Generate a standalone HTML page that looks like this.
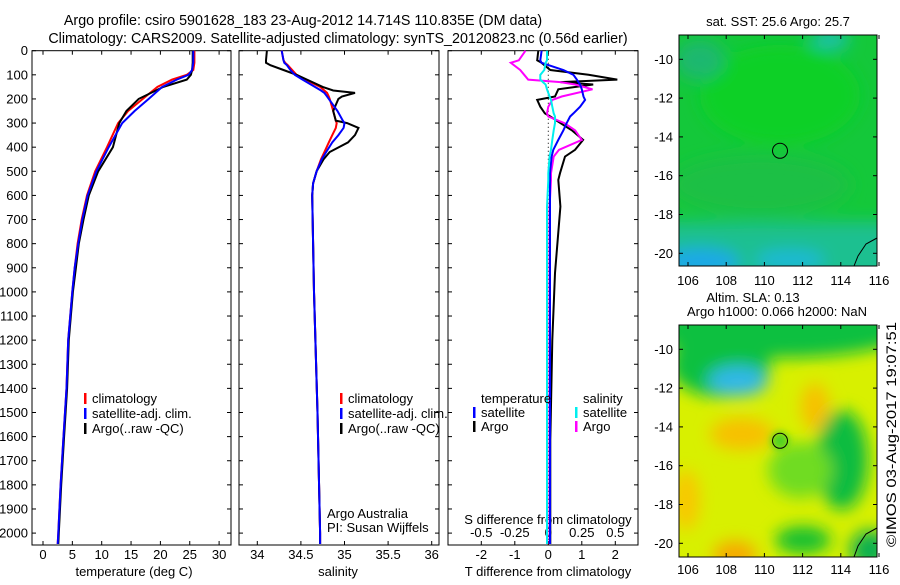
<!DOCTYPE html>
<html><head><meta charset="utf-8"><style>
body{margin:0;background:#fff}
svg text{font-family:"Liberation Sans",sans-serif;font-size:13px;fill:#000}
svg text.ttl{font-size:14.3px}
</style></head><body>
<svg id="c" width="900" height="580" viewBox="0 0 900 580" xmlns="http://www.w3.org/2000/svg">
<defs>
<filter id="bl" x="-50%" y="-50%" width="200%" height="200%"><feGaussianBlur stdDeviation="8"/></filter>
<filter id="bl2" x="-50%" y="-50%" width="200%" height="200%"><feGaussianBlur stdDeviation="4"/></filter>
<clipPath id="cm1"><rect x="679" y="35" width="198" height="231"/></clipPath>
<clipPath id="cm2"><rect x="679" y="325" width="198" height="232"/></clipPath>
</defs>
<text class="ttl" x="303" y="25" text-anchor="middle">Argo profile: csiro 5901628_183 23-Aug-2012 14.714S 110.835E (DM data)</text>
<text class="ttl" x="338" y="43" text-anchor="middle">Climatology: CARS2009. Satellite-adjusted climatology: synTS_20120823.nc (0.56d earlier)</text>
<g id="plots"></g>

<g clip-path="url(#cm1)">
<rect x="679" y="35" width="198" height="231" fill="#14c83a"/>
<g filter="url(#bl)">
<ellipse cx="780" cy="95" rx="80" ry="50" fill="#10d028"/>
<ellipse cx="760" cy="185" rx="90" ry="30" fill="#1cc044"/>
<ellipse cx="700" cy="60" rx="25" ry="20" fill="#1cb870"/>
<rect x="660" y="222" width="240" height="60" fill="#1cc090"/>
<ellipse cx="700" cy="262" rx="40" ry="14" fill="#1ca8e8"/>
<ellipse cx="790" cy="260" rx="35" ry="10" fill="#1cb8d8"/>
<ellipse cx="830" cy="40" rx="20" ry="8" fill="#1cc0c0"/>
</g>
<path d="M877 238 L866 244 L858 256 L854 266" fill="none" stroke="#000" stroke-width="1"/>
</g>
<rect x="679" y="35" width="198" height="231" fill="none" stroke="#000"/>
<circle cx="780" cy="150.8" r="7.5" fill="none" stroke="#000"/>

<g clip-path="url(#cm2)">
<rect x="679" y="325" width="198" height="232" fill="#d8f000"/>
<g filter="url(#bl)">
<ellipse cx="780" cy="330" rx="130" ry="28" fill="#10c040"/>
<ellipse cx="720" cy="365" rx="50" ry="32" fill="#10c040"/>
<ellipse cx="738" cy="381" rx="30" ry="15" fill="#30b8e8"/>
<ellipse cx="842" cy="460" rx="26" ry="50" fill="#10bc40"/>
<ellipse cx="800" cy="470" rx="32" ry="28" fill="#70dc20"/>
<ellipse cx="803" cy="540" rx="28" ry="14" fill="#18c030"/>
<ellipse cx="870" cy="550" rx="20" ry="20" fill="#10b050"/>
<ellipse cx="742" cy="434" rx="32" ry="16" fill="#f8c000"/>
<ellipse cx="815" cy="407" rx="14" ry="24" fill="#f8c000"/>
<ellipse cx="735" cy="555" rx="22" ry="14" fill="#f8a800"/>
<ellipse cx="686" cy="500" rx="14" ry="30" fill="#f8c800"/>
</g>
<circle cx="780" cy="440.8" r="9" fill="#50d020" filter="url(#bl2)"/>
<path d="M877 528 L866 534 L858 546 L854 557" fill="none" stroke="#000" stroke-width="1"/>
</g>
<rect x="679" y="325" width="198" height="232" fill="none" stroke="#000"/>
<circle cx="780" cy="440.8" r="7.5" fill="none" stroke="#000"/>
<text x="778" y="26" text-anchor="middle">sat. SST: 25.6 Argo: 25.7</text>
<text x="753" y="302" text-anchor="middle">Altim. SLA: 0.13</text>
<text x="777" y="316" text-anchor="middle">Argo h1000: 0.066 h2000: NaN</text>
<text transform="translate(896,547) rotate(-90)" text-anchor="start" textLength="225" lengthAdjust="spacingAndGlyphs" style="font-size:14px">©IMOS 03-Aug-2017 19:07:51</text>
<g id="maptk"></g>
</svg>
<script>
// ---- data ----
const depths=[0,50,80,100,120,150,200,250,300,400,500,600,700,800,900,1000,1200,1400,1600,1800,2000,2045];
const tempClim=[25.8,25.8,25.6,24.5,22,19.5,17,14.5,12.8,10.9,8.9,7.5,6.6,5.9,5.4,5.0,4.3,4.0,3.5,3.0,2.6,2.5];
const tempSat=[25.6,25.6,25.4,24.8,22.8,20.3,18.0,15.6,13.5,11.2,9.1,7.6,6.7,6.0,5.4,5.0,4.3,4.0,3.5,3.0,2.6,2.5];
const tempArgo=[25.5,25.5,25.4,25.2,24.5,20.5,16.3,14.2,13.0,11.9,9.4,7.8,6.9,6.1,5.6,5.1,4.4,4.1,3.6,3.1,2.7,2.6];
const salDepths=[0,40,50,60,80,100,120,150,165,175,190,200,250,290,300,320,350,380,420,450,500,550,600,1000,1500,2000,2045];
const salClim=[34.28,34.30,34.32,34.35,34.40,34.45,34.55,34.72,34.77,34.80,34.82,34.83,34.87,34.90,34.91,34.90,34.86,34.82,34.77,34.73,34.68,34.64,34.63,34.65,34.69,34.72,34.72];
const salSat=[34.28,34.30,34.31,34.34,34.38,34.43,34.52,34.66,34.73,34.77,34.80,34.82,34.92,34.98,35.0,34.99,34.93,34.86,34.79,34.74,34.68,34.64,34.63,34.65,34.69,34.72,34.72];
const salArgo=[34.11,34.10,34.10,34.15,34.30,34.45,34.57,34.75,34.87,35.12,34.97,34.93,34.87,34.90,35.03,35.16,35.12,35.04,34.83,34.76,34.68,34.64,34.63,34.65,34.69,34.72,34.72];
const dDepths=[0,40,50,80,100,120,130,140,160,190,204,232,260,273,300,330,370,411,439,508,536,646,922,1200,1615,2045];
const dTsat=[-0.2,-0.24,-0.2,0.45,0.75,0.85,0.9,0.95,1.0,1.05,1.1,0.95,0.75,0.65,0.55,0.45,0.3,0.15,0.1,0.05,0.05,0.05,0.05,0.05,0.05,0.05];
const dTargo=[-0.3,-0.33,-0.2,0.06,1.2,2.06,0.36,1.34,0.3,0.2,-0.33,-0.24,-0.1,0.06,0.36,0.7,1.04,0.8,0.5,0.35,0.3,0.36,0.2,0.12,0.06,0.06];
const dSsat=[-0.01,-0.01,-0.02,-0.03,-0.06,-0.06,-0.04,-0.02,-0.01,0.01,0.02,0.03,0.04,0.05,0.05,0.04,0.03,0.02,0.01,0.0,0.0,-0.01,-0.01,-0.01,-0.01,-0.01];
const dSargo=[-0.17,-0.22,-0.28,-0.21,-0.18,-0.15,0.09,0.2,0.33,0.1,0.03,0.0,-0.01,0.0,0.12,0.2,0.25,0.08,0.04,0.02,0.02,0.01,0.01,0.01,0.01,0.01];
const depthTicks=[0,100,200,300,400,500,600,700,800,900,1000,1100,1200,1300,1400,1500,1600,1700,1800,1900,2000];
const tTicks=[0,5,10,15,20,25,30];
const sTicks=[34,34.5,35,35.5,36];
const dTTicks=[-2,-1,0,1,2];
const dSTicks=[-0.5,-0.25,0,0.25,0.5];
const dSTickLabels=["-0.5","-0.25","0","0.25","0.5"];
const latTicks=[-10,-12,-14,-16,-18,-20];
const lonTicks=[106,108,110,112,114,116];

const NS='http://www.w3.org/2000/svg';
const G=document.getElementById('plots');
function mk(t,a,p){const e=document.createElementNS(NS,t);for(const k in a)e.setAttribute(k,a[k]);(p||G).appendChild(e);return e;}
const top0=50.7, bot=545;
const yD=d=>top0+d*0.2412;
const xT=v=>43+v*5.87;
const xS=v=>257.3+(v-34)*87.2;
const xDT=v=>548.3+v*33.5;
const xDS=v=>548.3+v*134;
const panels=[[32,231],[239,439],[448,638]];
panels.forEach((p,i)=>{
  const r=mk('rect',{x:p[0],y:top0,width:p[1]-p[0],height:bot-top0,fill:'none',stroke:'#000'});
  
  
});
depthTicks.forEach(d=>{
  const t=mk('text',{x:28,y:yD(d)+4.5,'text-anchor':'end'});t.textContent=d;
  
  
  panels.forEach(p=>{mk('line',{x1:p[0],x2:p[0]+4,y1:yD(d),y2:yD(d),stroke:'#000'});mk('line',{x1:p[1]-4,x2:p[1],y1:yD(d),y2:yD(d),stroke:'#000'});});
});
function xticks(arr,fx,y,labels,name,tickTop){
  arr.forEach((v,i)=>{
    const x=fx(v);
    if(tickTop){mk('line',{x1:x,x2:x,y1:top0,y2:top0+4,stroke:'#000'});mk('line',{x1:x,x2:x,y1:bot-4,y2:bot,stroke:'#000'});}
    const t=mk('text',{x:x,y:y,'text-anchor':'middle'});t.textContent=labels?labels[i]:v;
    
    
  });
}
xticks(tTicks,xT,559,null,'temperature-tick-label',true);
xticks(sTicks,xS,559,null,'salinity-tick-label',true);
xticks(dTTicks,xDT,559,null,'tdiff-tick-label',true);
xticks(dSTicks,xDS,537,dSTickLabels,'sdiff-tick-label',false);
function lbl(x,y,s,name,anchor){const t=mk('text',{x:x,y:y,'text-anchor':anchor||'start'});t.textContent=s;return t;}
lbl(134,576,'temperature (deg C)','x-axis-title-temperature','middle');
lbl(338,576,'salinity','x-axis-title-salinity','middle');
lbl(548,576,'T difference from climatology','x-axis-title-tdiff','middle');
lbl(548,524,'S difference from climatology','sdiff-axis-title','middle');
lbl(327,518,'Argo Australia','credit-line-1');
lbl(327,532,'PI: Susan Wijffels','credit-line-2');
mk('line',{x1:548.3,x2:548.3,y1:top0,y2:bot,stroke:'#000','stroke-dasharray':'1,3'});
function line(xs,ds,fx,color,name){
  const pts=xs.map((v,i)=>fx(v).toFixed(1)+','+yD(ds[i]).toFixed(1)).join(' ');
  const e=mk('polyline',{points:pts,fill:'none',stroke:color,'stroke-width':2});
  
  
}
line(tempClim,depths,xT,'#f00','temp-climatology-line');
line(tempArgo,depths,xT,'#000','temp-argo-line');
line(tempSat,depths,xT,'#00f','temp-satellite-line');
line(salClim,salDepths,xS,'#f00','sal-climatology-line');
line(salArgo,salDepths,xS,'#000','sal-argo-line');
line(salSat,salDepths,xS,'#00f','sal-satellite-line');
line(dTargo,dDepths,xDT,'#000','tdiff-argo-line');
line(dSargo,dDepths,xDS,'#f0f','sdiff-argo-line');
line(dTsat,dDepths,xDT,'#00f','tdiff-satellite-line');
line(dSsat,dDepths,xDS,'#0ee','sdiff-satellite-line');
function leg(x,y,c,s,name){mk('rect',{x:x,y:y-10,width:2.5,height:11,fill:c});lbl(x+8,y,s,name);}
[[84,'t'],[340,'s']].forEach(([x,k])=>{
  leg(x,403,'#f00','climatology','legend-climatology-'+k);
  leg(x,418,'#00f','satellite-adj. clim.','legend-satellite-'+k);
  leg(x,433,'#000','Argo(..raw -QC)','legend-argo-'+k);
});
lbl(481,403,'temperature','legend-header-temperature');
lbl(583,403,'salinity','legend-header-salinity');
leg(473,417,'#00f','satellite','legend-tdiff-satellite');
leg(473,431,'#000','Argo','legend-tdiff-argo');
leg(575,417,'#0ee','satellite','legend-sdiff-satellite');
leg(575,431,'#f0f','Argo','legend-sdiff-argo');
const MT=document.getElementById('maptk');
const xLon=v=>688+(v-106)*19.1;
[[35,266,59.3,285],[325,557,349.3,574]].forEach(([t,b,l10,ly])=>{
  const yLat=v=>l10+(-10-v)*19.4;
  latTicks.forEach(v=>{
    const y=yLat(v);
    mk('line',{x1:679,x2:683,y1:y,y2:y,stroke:'#000'},MT);mk('line',{x1:873,x2:877,y1:y,y2:y,stroke:'#000'},MT);
    const tx=mk('text',{x:673,y:y+4.5,'text-anchor':'end'},MT);tx.textContent=v;
    
    
  });
  lonTicks.forEach(v=>{
    const x=xLon(v);
    mk('line',{x1:x,x2:x,y1:t,y2:t+4,stroke:'#000'},MT);mk('line',{x1:x,x2:x,y1:b-4,y2:b,stroke:'#000'},MT);
    const tx=mk('text',{x:x,y:ly,'text-anchor':'middle'},MT);tx.textContent=v;
    
    
  });
});
</script>
</body></html>
